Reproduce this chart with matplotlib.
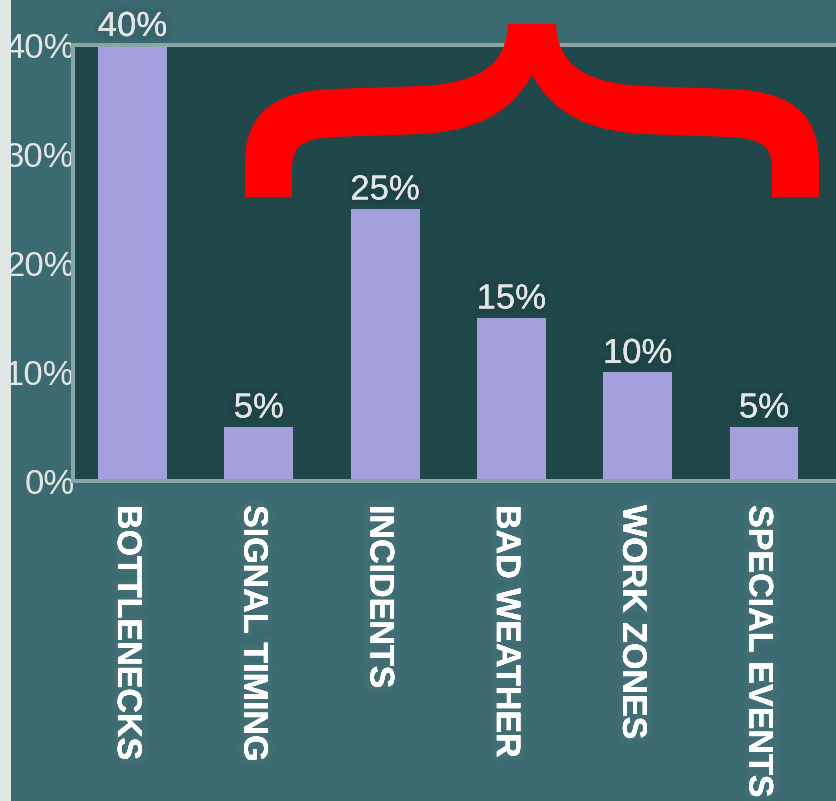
import matplotlib
matplotlib.use("Agg")
import matplotlib.pyplot as plt
import matplotlib.patheffects as pe
import matplotlib.transforms as mtransforms
from matplotlib.path import Path
from matplotlib.patches import PathPatch, Rectangle

plt.rcParams['font.family'] = ['Liberation Sans', 'DejaVu Sans']

# Congestion causes and their share
categories = ["BOTTLENECKS", "SIGNAL TIMING", "INCIDENTS", "BAD WEATHER",
              "WORK ZONES", "SPECIAL EVENTS"]
shares = [40, 5, 25, 15, 10, 5]
y_ticks = [0, 10, 20, 30, 40]
y_tick_labels = ["0%", "10%", "20%", "30%", "40%"]

BG = "#3b6a70"
PLOT_BG = "#20474a"
BAR = "#a4a0dc"
SPINE = "#88a6a6"
TXT = "#e4e6e6"

W, H = 836, 801
fig = plt.figure(figsize=(W / 100, H / 100), dpi=100)
fig.patch.set_facecolor(BG)

# light strip along the left edge
fig.add_artist(Rectangle((0, 0), 11 / W, 1, transform=fig.transFigure,
                         facecolor="#dfe6e6", edgecolor="none", zorder=-1))

ax = fig.add_axes([73 / W, 1 - 481 / H, 1 - 73 / W, (481 - 45) / H])
ax.set_facecolor(PLOT_BG)

x = list(range(len(categories)))
ax.bar(x, shares, width=0.546, color=BAR, zorder=2)

ax.set_xlim(-0.471, 5.57)
ax.set_ylim(0, 40)

for s in ("left", "top", "bottom"):
    ax.spines[s].set_color(SPINE)
    ax.spines[s].set_linewidth(2.9)
ax.spines["right"].set_visible(False)

ax.set_yticks(y_ticks)
ax.set_yticklabels(y_tick_labels)
ax.tick_params(axis="y", length=0, pad=-1, labelsize=25, labelcolor=TXT)

# category names, written downward under each bar
glow = [pe.withStroke(linewidth=10, foreground=(1, 1, 1, 0.015)),
        pe.withStroke(linewidth=5, foreground=(1, 1, 1, 0.025)),
        pe.Normal()]
ax.set_xticks(x)
ax.set_xticklabels([])
ax.tick_params(axis="x", length=0)
label_tr = ax.get_xaxis_transform() + mtransforms.ScaledTranslation(
    -6 / 100, -24 / 100, fig.dpi_scale_trans)
for xi, name in zip(x, categories):
    ax.text(xi, 0, name, transform=label_tr, rotation=270, fontweight="bold",
            fontsize=24.5, color="white", va="top", ha="center",
            path_effects=glow, clip_on=False)

shadow = [pe.withStroke(linewidth=8, foreground=(0, 0, 0, 0.04)), pe.Normal()]
for xi, v in zip(x, shares):
    t = ax.annotate(f"{v}%", (xi, v), xytext=(0, 6.5), textcoords="offset points",
                    ha="center", va="baseline", fontsize=25, color=TXT,
                    annotation_clip=False, zorder=3)
    t.set_path_effects(shadow)

# red curly brace over the lower-ranked causes
cx = 532
pts_px = [
    ((cx - 24, 24), Path.MOVETO),
    ((cx - 26, 60), Path.CURVE4), ((cx - 45, 82), Path.CURVE4), ((cx - 110, 86), Path.CURVE4),
    ((cx - 200, 89), Path.LINETO),
    ((cx - 265, 92), Path.CURVE4), ((cx - 287, 118), Path.CURVE4), ((cx - 287, 165), Path.CURVE4),
    ((cx - 287, 197), Path.LINETO),
    ((cx - 240, 197), Path.LINETO),
    ((cx - 240, 170), Path.LINETO),
    ((cx - 240, 148), Path.CURVE4), ((cx - 232, 139), Path.CURVE4), ((cx - 200, 137), Path.CURVE4),
    ((cx - 110, 134), Path.LINETO),
    ((cx - 50, 130), Path.CURVE4), ((cx - 20, 110), Path.CURVE4), ((cx, 75), Path.CURVE4),
    ((cx + 20, 110), Path.CURVE4), ((cx + 50, 130), Path.CURVE4), ((cx + 110, 134), Path.CURVE4),
    ((cx + 200, 137), Path.LINETO),
    ((cx + 232, 139), Path.CURVE4), ((cx + 240, 148), Path.CURVE4), ((cx + 240, 170), Path.CURVE4),
    ((cx + 240, 197), Path.LINETO),
    ((cx + 287, 197), Path.LINETO),
    ((cx + 287, 165), Path.LINETO),
    ((cx + 287, 118), Path.CURVE4), ((cx + 265, 92), Path.CURVE4), ((cx + 200, 89), Path.CURVE4),
    ((cx + 110, 86), Path.LINETO),
    ((cx + 45, 82), Path.CURVE4), ((cx + 26, 60), Path.CURVE4), ((cx + 24, 24), Path.CURVE4),
    ((cx - 24, 24), Path.CLOSEPOLY),
]
verts = [(px / W, 1 - py / H) for (px, py), _ in pts_px]
codes = [c for _, c in pts_px]
fig.add_artist(PathPatch(Path(verts, codes), transform=fig.transFigure,
                         facecolor="#ff0000", edgecolor="none", zorder=5))

fig.savefig("out.png", dpi=100, facecolor=fig.get_facecolor())
